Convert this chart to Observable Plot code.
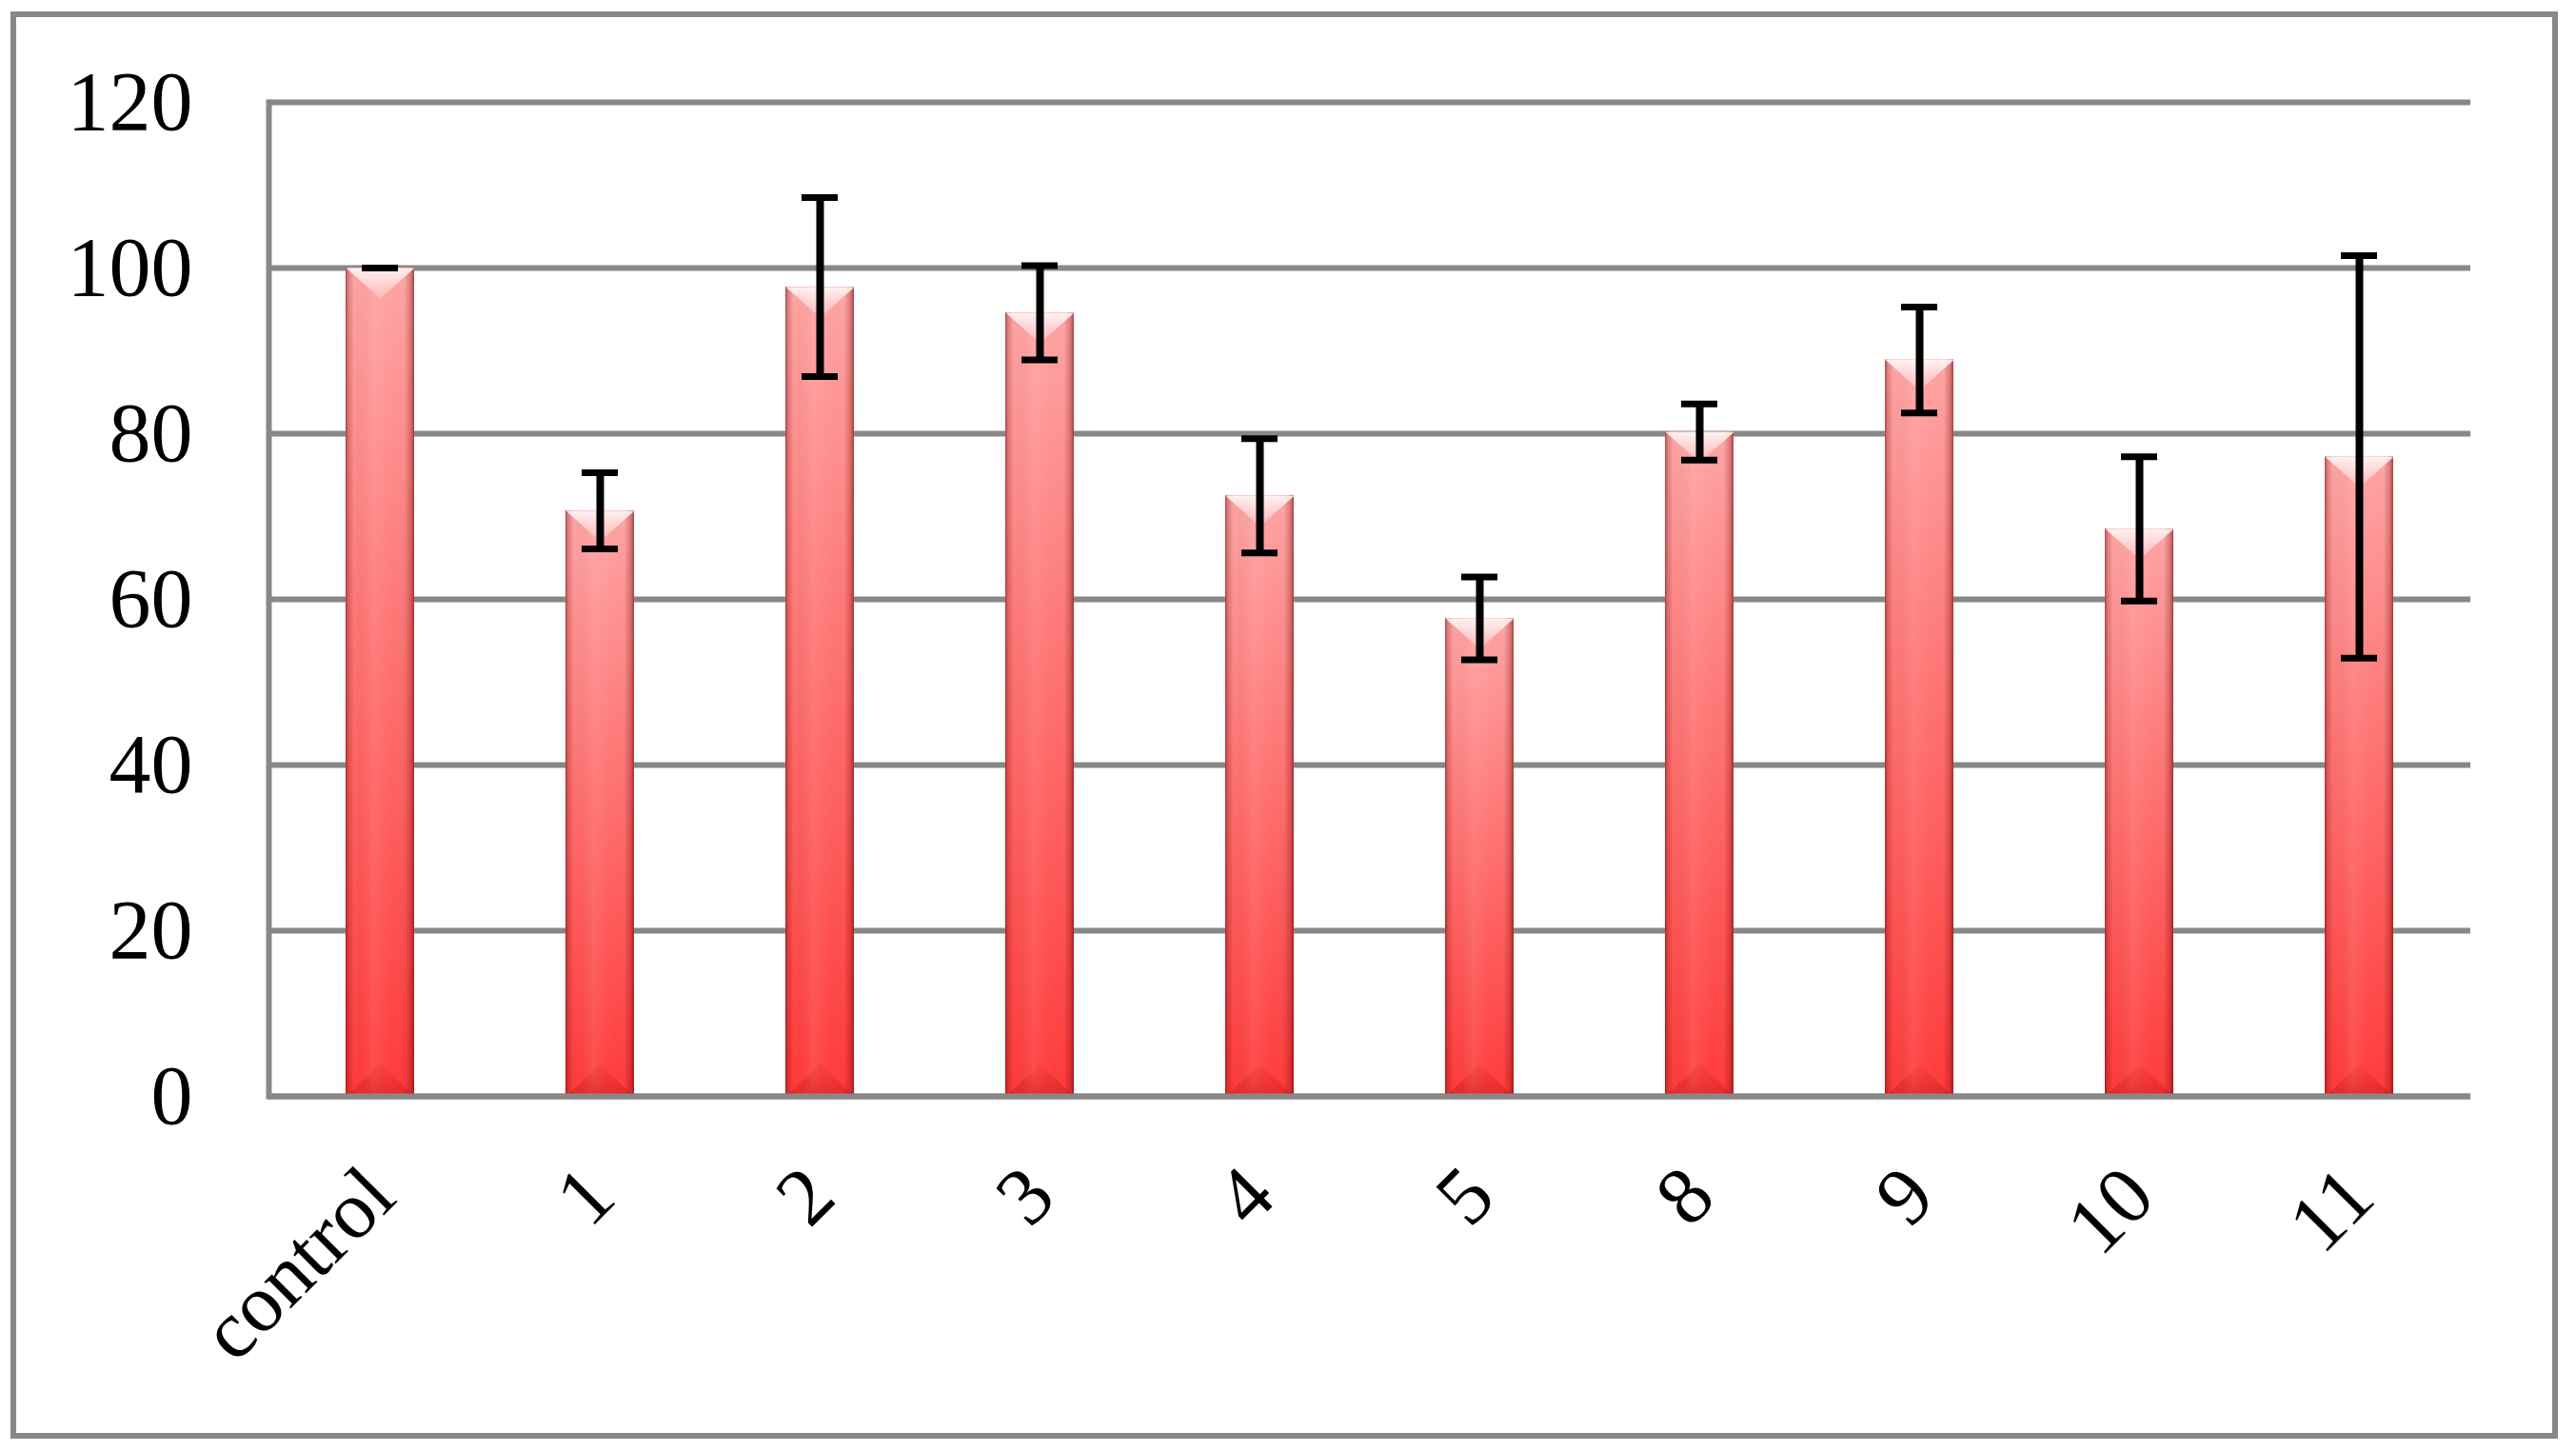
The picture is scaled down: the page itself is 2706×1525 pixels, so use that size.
<!DOCTYPE html>
<html>
<head>
<meta charset="utf-8">
<script src="https://cdn.jsdelivr.net/npm/d3@7"></script>
<script src="https://cdn.jsdelivr.net/npm/@observablehq/plot@0.6"></script>
<style>
html, body { margin: 0; padding: 0; background: #fff; }
#wrap { position: relative; width: 2706px; height: 1525px; overflow: hidden; background: #fff; }
#chart { position: absolute; left: 0; top: 0; }
#border { position: absolute; left: 11px; top: 12px; width: 2676px; height: 1499px; border: 6px solid #888; box-sizing: border-box; pointer-events: none; }
</style>
</head>
<body>
<div id="wrap"><div id="chart"></div><div id="border"></div></div>
<script>
// ---- data ----
const categories = ["control", "1", "2", "3", "4", "5", "8", "9", "10", "11"];
const means = [100, 70.7, 97.7, 94.6, 72.5, 57.7, 80.2, 88.9, 68.5, 77.2];
const errors = [0, 4.6, 10.8, 5.7, 6.9, 5.0, 3.4, 6.4, 8.7, 24.3];
const yTicks = [0, 20, 40, 60, 80, 100, 120];

const rows = categories.map((cat, i) => ({
  cat, mean: means[i], err: errors[i], lo: means[i] - errors[i], hi: means[i] + errors[i]
}));

// bevel shapes (relative to the bar's top / bottom centre)
const topBevel = { draw(ctx) { ctx.moveTo(-36, 0); ctx.lineTo(36, 0); ctx.lineTo(0, 32); ctx.closePath(); } };
const bottomBevel = { draw(ctx) { ctx.moveTo(-36, 0); ctx.lineTo(36, 0); ctx.lineTo(0, -34); ctx.closePath(); } };

const chart = Plot.plot({
  width: 2706,
  height: 1525,
  marginLeft: 282,
  marginRight: 111,
  marginTop: 107,
  marginBottom: 374,
  style: { fontFamily: '"Liberation Serif", "DejaVu Serif", serif', color: "#000", background: "transparent", overflow: "visible" },
  x: { domain: categories, paddingInner: 0.689, paddingOuter: 0.3445, label: null },
  y: { domain: [0, 120], label: null },
  marks: [
    Plot.ruleY(yTicks, { stroke: "#888", strokeWidth: 6, strokeOpacity: 1 }),
    Plot.frame({ anchor: "left", stroke: "#888", strokeWidth: 6, strokeOpacity: 1 }),
    Plot.barY(rows, { x: "cat", y: "mean", fill: "url(#barFill)", ariaLabel: "bar-base" }),
    Plot.barY(rows, { x: "cat", y: "mean", fill: "url(#barShade)", ariaLabel: "bar-shade" }),
    Plot.dot(rows, { x: "cat", y: "mean", symbol: topBevel, r: 10, fill: "url(#bevelTop)" }),
    Plot.dot(rows, { x: "cat", y: 0, symbol: bottomBevel, r: 10, fill: "url(#bevelBottom)" }),
    Plot.ruleY([0], { stroke: "#888", strokeWidth: 6, strokeOpacity: 1 }),
    Plot.ruleX(rows, { x: "cat", y1: "lo", y2: "hi", stroke: "#000", strokeWidth: 8 }),
    Plot.tickY(rows, { x: "cat", y: "hi", stroke: "#000", strokeWidth: 7, insetLeft: 17, insetRight: 17 }),
    Plot.tickY(rows, { x: "cat", y: "lo", stroke: "#000", strokeWidth: 7, insetLeft: 17, insetRight: 17 }),
    Plot.axisY({ ticks: yTicks, tickSize: 0, tickPadding: 80, fontSize: 88, label: null }),
    Plot.axisX({ tickSize: 0, tickPadding: 90, tickRotate: -45, fontSize: 86, label: null, textAnchor: "end", lineAnchor: "middle" })
  ]
});

const svg = d3.select(chart);
const defs = svg.insert("defs", ":first-child");

const g1 = defs.append("linearGradient").attr("id", "barFill").attr("x1", 0).attr("y1", 0).attr("x2", 0).attr("y2", 1);
[["0%", "#ffa4a4"], ["45%", "#ff7373"], ["100%", "#ff3a3a"]].forEach(([o, c]) => g1.append("stop").attr("offset", o).attr("stop-color", c));

const g2 = defs.append("linearGradient").attr("id", "barShade").attr("x1", 0).attr("y1", 0).attr("x2", 1).attr("y2", 0);
[["0%", "#700000", 0.55], ["4%", "#700000", 0.22], ["12%", "#000000", 0], ["40%", "#ffffff", 0.08], ["62%", "#ffffff", 0.02], ["86%", "#000000", 0], ["95%", "#700000", 0.25], ["100%", "#700000", 0.6]]
  .forEach(([o, c, a]) => g2.append("stop").attr("offset", o).attr("stop-color", c).attr("stop-opacity", a));

const g3 = defs.append("linearGradient").attr("id", "bevelTop").attr("x1", 0).attr("y1", 0).attr("x2", 0).attr("y2", 1);
[["0%", "#ffffff", 0.85], ["100%", "#ffffff", 0.2]].forEach(([o, c, a]) => g3.append("stop").attr("offset", o).attr("stop-color", c).attr("stop-opacity", a));

const g4 = defs.append("linearGradient").attr("id", "bevelBottom").attr("x1", 0).attr("y1", 0).attr("x2", 0).attr("y2", 1);
[["0%", "#a00000", 0.05], ["100%", "#a00000", 0.28]].forEach(([o, c, a]) => g4.append("stop").attr("offset", o).attr("stop-color", c).attr("stop-opacity", a));

const f = defs.append("filter").attr("id", "barShadow").attr("x", "-10%").attr("y", "-10%").attr("width", "120%").attr("height", "120%");
f.append("feDropShadow").attr("dx", 0).attr("dy", 3).attr("stdDeviation", 7).attr("flood-color", "#000").attr("flood-opacity", 0.35);

svg.select('g[aria-label="bar-base"]').attr("filter", "url(#barShadow)");

document.getElementById("chart").appendChild(chart);
</script>
</body>
</html>
